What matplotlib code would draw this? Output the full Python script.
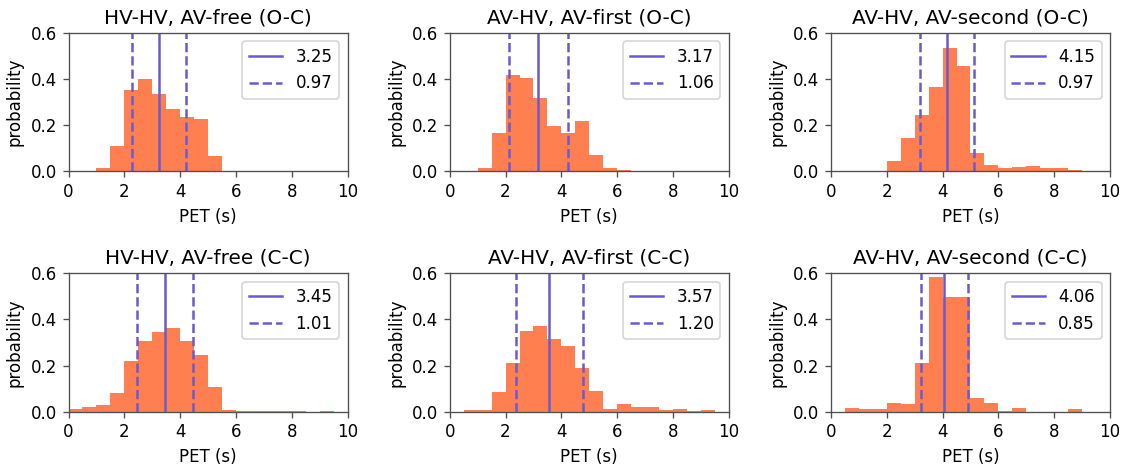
import matplotlib.pyplot as plt
import numpy as np

# bin edges (0.5 s wide) and bar heights
bins = np.arange(0, 10.5, 0.5)

titles = ['HV-HV, AV-free (O-C)', 'AV-HV, AV-first (O-C)', 'AV-HV, AV-second (O-C)',
          'HV-HV, AV-free (C-C)', 'AV-HV, AV-first (C-C)', 'AV-HV, AV-second (C-C)']

free_oc = [0.002, 0.002, 0.013, 0.112, 0.353, 0.40, 0.336, 0.27, 0.235, 0.226,
           0.069, 0.003, 0.002, 0, 0, 0, 0, 0, 0, 0]
first_oc = [0, 0.003, 0.013, 0.168, 0.42, 0.407, 0.32, 0.199, 0.168, 0.22,
            0.072, 0.013, 0.007, 0.002, 0.003, 0.003, 0.001, 0, 0.003, 0]
second_oc = [0, 0, 0, 0.003, 0.046, 0.146, 0.246, 0.368, 0.533, 0.459,
             0.081, 0.029, 0.017, 0.02, 0.024, 0.017, 0.013, 0.007, 0, 0]
free_cc = [0.013, 0.019, 0.028, 0.08, 0.219, 0.306, 0.345, 0.361, 0.306, 0.248,
           0.106, 0.007, 0.002, 0.002, 0.001, 0.001, 0.001, 0, 0.002, 0]
first_cc = [0, 0.007, 0.007, 0.087, 0.213, 0.352, 0.37, 0.317, 0.287, 0.191,
            0.091, 0.013, 0.035, 0.019, 0.019, 0.009, 0.013, 0.004, 0.009, 0]
second_cc = [0, 0.017, 0.013, 0.013, 0.039, 0.035, 0.209, 0.583, 0.496, 0.496,
             0.061, 0.039, 0.002, 0.017, 0, 0, 0, 0.013, 0, 0]
heights = [free_oc, first_oc, second_oc, free_cc, first_cc, second_cc]

means = [3.25, 3.17, 4.15, 3.45, 3.57, 4.06]
stds = [0.97, 1.06, 0.97, 1.01, 1.20, 0.85]

fig, axes = plt.subplots(2, 3, figsize=(1129 / 120, 465 / 120), dpi=120)
plt.subplots_adjust(left=0.0607, right=0.9832, top=0.929, bottom=0.1146,
                    wspace=0.366, hspace=0.736)

for i, ax in enumerate(axes.flat):
    ax.hist(bins[:-1], bins=bins, weights=heights[i], color='coral')
    m, s = means[i], stds[i]
    ax.axvline(m, color='slateblue', linewidth=1.5, label='%.2f' % m)
    ax.axvline(m - s, color='slateblue', linestyle='--', linewidth=1.5, label='%.2f' % s)
    ax.axvline(m + s, color='slateblue', linestyle='--', linewidth=1.5)
    ax.set_xlim(0, 10)
    ax.set_ylim(0, 0.6)
    ax.set_yticks([0, 0.2, 0.4, 0.6])
    ax.set_title(titles[i])
    ax.set_xlabel('PET (s)')
    ax.set_ylabel('probability')
    ax.legend(loc='upper right')
    for sp in ax.spines.values():
        sp.set_color('#505050')
    ax.tick_params(color='#505050')

plt.savefig('out.png', dpi=120)
